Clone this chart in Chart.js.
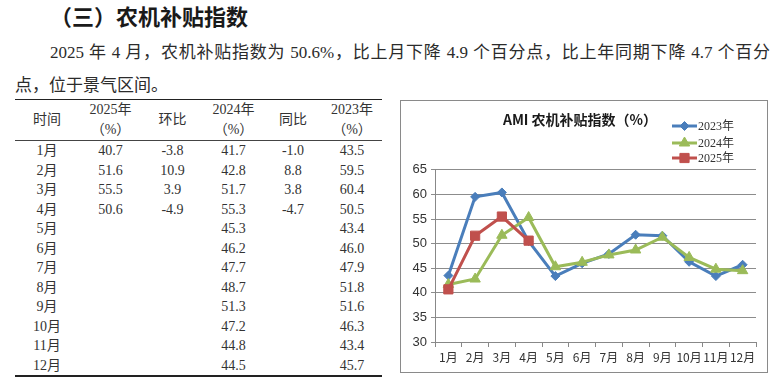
<!DOCTYPE html>
<html>
<head>
<meta charset="utf-8">
<script src="https://cdn.jsdelivr.net/npm/chart.js"></script>
<style>
    body { margin: 0; width: 776px; height: 381px; background: #fff; position: relative; overflow: hidden;
           font-family: "Liberation Serif", "Noto Sans CJK SC", serif; color: #2b2b2b; }
    .heading { position: absolute; left: 50px; top: 0; font: bold 22px/30px "Noto Sans CJK SC", sans-serif; color: #1a1a1a; }
    .para { position: absolute; font-size: 17px; line-height: 26px; }
    .para1 { left: 50px; top: 40px; width: 720px; text-align: justify; text-align-last: justify; }
    .para2 { left: 15px; top: 73px; }
    table.stats { position: absolute; left: 15px; top: 99px; width: 367px; border-collapse: collapse; table-layout: fixed;
                  font-size: 14px; color: #333; }
    table.stats th { font-weight: normal; line-height: 20px; height: 38px; padding: 0; text-align: center;
                     border-top: 1.5px solid #222; border-bottom: 1px solid #444; }
    table.stats td { height: 19.5px; line-height: 19.5px; padding: 0; text-align: center; }
    table.stats tr:last-child td { border-bottom: 2px solid #222; }
    .chart-box { position: absolute; left: 400px; top: 100px; width: 366px; height: 271px; border: 1px solid #8a8a8a; }
</style>
</head>
<body>
<div class="heading">（三）农机补贴指数</div>
<div class="para para1">2025 年 4 月，农机补贴指数为 50.6%，比上月下降 4.9 个百分点，比上年同期下降 4.7 个百分</div>
<div class="para para2">点，位于景气区间。</div>

<table class="stats" id="stats">
    <colgroup>
        <col style="width:64px"><col style="width:63px"><col style="width:61px">
        <col style="width:61px"><col style="width:58px"><col style="width:60px">
    </colgroup>
    <thead>
        <tr><th>时间</th><th>2025年<br>（%）</th><th>环比</th><th>2024年<br>（%）</th><th>同比</th><th>2023年<br>（%）</th></tr>
    </thead>
    <tbody></tbody>
</table>

<div class="chart-box"><canvas id="ami-chart" width="366" height="271"></canvas></div>

<script>
const months = ['1月', '2月', '3月', '4月', '5月', '6月', '7月', '8月', '9月', '10月', '11月', '12月'];
const idx2025 = [40.7, 51.6, 55.5, 50.6];
const momChange = [-3.8, 10.9, 3.9, -4.9];
const idx2024 = [41.7, 42.8, 51.7, 55.3, 45.3, 46.2, 47.7, 48.7, 51.3, 47.2, 44.8, 44.5];
const yoyChange = [-1.0, 8.8, 3.8, -4.7];
const idx2023 = [43.5, 59.5, 60.4, 50.5, 43.4, 46.0, 47.9, 51.8, 51.6, 46.3, 43.4, 45.7];
const yTicks = [30, 35, 40, 45, 50, 55, 60, 65];

// table
const fmt = v => (v === undefined ? '' : v.toFixed(1));
document.querySelector('#stats tbody').innerHTML = months.map((m, i) =>
    `<tr><td>${m}</td><td>${fmt(idx2025[i])}</td><td>${fmt(momChange[i])}</td>` +
    `<td>${fmt(idx2024[i])}</td><td>${fmt(yoyChange[i])}</td><td>${fmt(idx2023[i])}</td></tr>`
).join('');

// legend drawn to the upper right, like the Excel original
const cornerLegend = {
    id: 'cornerLegend',
    afterDraw(chart) {
        const c = chart.ctx;
        const x0 = 271, x1 = 296, rows = [25, 42, 57];
        chart.data.datasets.forEach((ds, i) => {
            const y = rows[i];
            c.save();
            c.strokeStyle = ds.borderColor;
            c.lineWidth = 3;
            c.beginPath(); c.moveTo(x0, y); c.lineTo(x1, y); c.stroke();
            c.fillStyle = ds.backgroundColor;
            c.lineWidth = 1;
            Chart.helpers.drawPoint(c, { pointStyle: ds.pointStyle, radius: ds.pointRadius, borderWidth: 1 }, (x0 + x1) / 2, y);
            c.fillStyle = '#333';
            c.font = '12px "Liberation Serif", "Noto Sans CJK SC"';
            c.textBaseline = 'middle';
            c.fillText(ds.label, x1 + 1, y + 1);
            c.restore();
        });
    }
};

new Chart(document.getElementById('ami-chart').getContext('2d'), {
    type: 'line',
    data: {
        labels: months,
        datasets: [
            { label: '2023年', data: idx2023, borderColor: '#4a7ebb', backgroundColor: '#4a7ebb', pointStyle: 'rectRot', pointRadius: 4.5, borderWidth: 3, pointBorderWidth: 1, order: 3 },
            { label: '2024年', data: idx2024, borderColor: '#9bbb59', backgroundColor: '#9bbb59', pointStyle: 'triangle', pointRadius: 6, borderWidth: 3, pointBorderWidth: 1, order: 2 },
            { label: '2025年', data: idx2025, borderColor: '#c0504d', backgroundColor: '#c0504d', pointStyle: 'rect', pointRadius: 6.5, borderWidth: 3, pointBorderWidth: 1, order: 1 }
        ]
    },
    options: {
        responsive: false, animation: false, devicePixelRatio: 1,
        layout: { padding: { left: 3, right: 11, top: 0, bottom: 0 } },
        plugins: {
            legend: { display: false },
            tooltip: { enabled: false },
            title: {
                display: true, text: 'AMI 农机补贴指数（%）', color: '#1a1a1a',
                font: { family: '"Noto Sans CJK SC", sans-serif', size: 14, weight: 'bold' },
                padding: { top: 10, bottom: 42 }
            }
        },
        scales: {
            x: {
                offset: true,
                grid: { offset: true, drawOnChartArea: false, drawTicks: true, tickLength: 5, color: '#888' },
                border: { color: '#888' },
                ticks: { font: { family: '"Noto Sans CJK SC", sans-serif', size: 12 }, color: '#333', padding: 3, maxRotation: 0, autoSkip: false },
                afterFit(s) { s.height = 30; }
            },
            y: {
                min: yTicks[0], max: yTicks[yTicks.length - 1],
                afterBuildTicks(s) { s.ticks = yTicks.map(v => ({ value: v })); },
                ticks: { font: { family: '"Liberation Sans", sans-serif', size: 13 }, color: '#333', padding: 4 },
                grid: { color: '#8c8c8c', tickLength: 4 },
                border: { color: '#888' },
                afterFit(s) { s.width = 31; }
            }
        }
    },
    plugins: [cornerLegend]
});
</script>
</body>
</html>
